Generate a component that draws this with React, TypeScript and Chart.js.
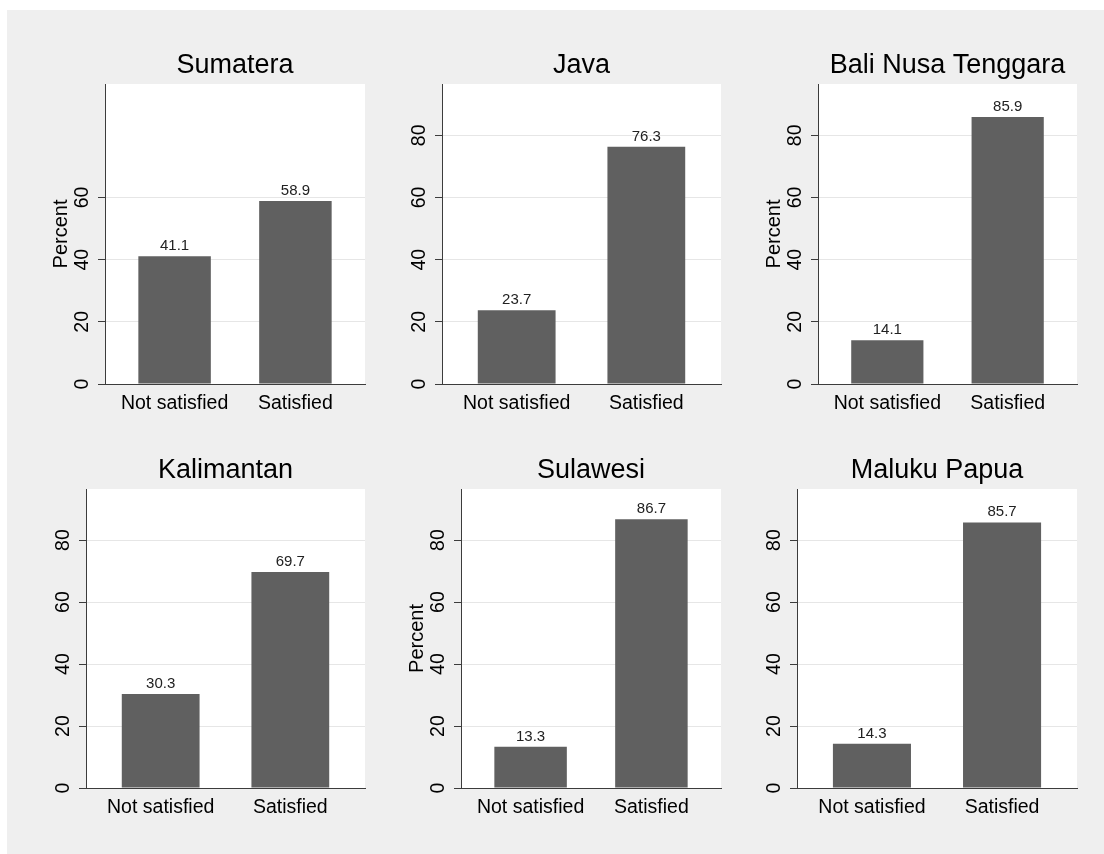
import React, { useEffect, useRef } from 'react';
import { Chart, registerables } from 'chart.js';

Chart.register(...registerables);

// ---------------- data ----------------
const regions = ['Sumatera', 'Java', 'Bali Nusa Tenggara', 'Kalimantan', 'Sulawesi', 'Maluku Papua'];
const categories = ['Not satisfied', 'Satisfied'];
const notSatisfied = [41.1, 23.7, 14.1, 30.3, 13.3, 14.3];
const satisfied = [58.9, 76.3, 85.9, 69.7, 86.7, 85.7];
const yTicksSumatera = [0, 20, 40, 60];
const yTicksDefault = [0, 20, 40, 60, 80];
const yTickSets = [yTicksSumatera, yTicksDefault, yTicksDefault, yTicksDefault, yTicksDefault, yTicksDefault];
const showPercent = [true, false, true, false, true, false];
const yAxisTitle = 'Percent';

// ---------------- layout / style ----------------
const Y_MAX = 96.5;
const X_MIN = -0.576;
const X_MAX = 1.576;
const FONT = "'Liberation Sans', Arial, Helvetica, sans-serif";
const BAR_COLOR = '#606060';
const AXIS_COLOR = '#3c3c3c';
const GRID_COLOR = '#e6e6e6';
const BG_COLOR = '#efefef';

// canvas rect [left, top, width, height] and plot rect [left, top, right, bottom]
const canvasRects = [
  [7, 10, 373, 415],
  [380, 10, 355, 415],
  [735, 10, 365, 415],
  [7, 425, 373, 420],
  [380, 425, 355, 420],
  [735, 425, 365, 420],
];
const plotRects = [
  [105, 84, 365, 384],
  [442, 84, 721, 384],
  [818, 84, 1077, 384],
  [86, 489, 365, 788],
  [461, 489, 721, 788],
  [797, 489, 1077, 788],
];

const plotBgPlugin = {
  id: 'plotBg',
  beforeDraw(chart: any) {
    const { ctx, chartArea } = chart;
    ctx.save();
    ctx.fillStyle = '#ffffff';
    ctx.fillRect(chartArea.left, chartArea.top, chartArea.right - chartArea.left, chartArea.bottom - chartArea.top);
    ctx.restore();
  },
};

const panelTitlePlugin = {
  id: 'panelTitle',
  afterDraw(chart: any, _args: any, opts: any) {
    const { ctx, chartArea } = chart;
    ctx.save();
    ctx.font = `27px ${FONT}`;
    ctx.fillStyle = '#000';
    ctx.textAlign = 'center';
    ctx.textBaseline = 'middle';
    ctx.fillText(opts.text, (chartArea.left + chartArea.right) / 2, chartArea.top - 18);
    ctx.restore();
  },
};

const valueLabelPlugin = {
  id: 'valueLabels',
  afterDatasetsDraw(chart: any) {
    const { ctx } = chart;
    const meta = chart.getDatasetMeta(0);
    const ds = chart.data.datasets[0];
    ctx.save();
    ctx.font = `15px ${FONT}`;
    ctx.fillStyle = '#222';
    ctx.textAlign = 'center';
    ctx.textBaseline = 'alphabetic';
    meta.data.forEach((bar: any, i: number) => {
      const v = ds.data[i].y;
      ctx.fillText(v.toFixed(1), bar.x, bar.y - 6);
    });
    ctx.restore();
  },
};

function Panel({ idx }: { idx: number }) {
  const ref = useRef<HTMLCanvasElement | null>(null);
  const [cl, ct, cw, ch] = canvasRects[idx];
  const [pl, pt, pr, pb] = plotRects[idx];

  useEffect(() => {
    if (!ref.current) return;
    const yW = pl - cl;
    const xH = ct + ch - pb;
    const padTop = pt - ct;
    const padRight = cl + cw - pr;
    const percentPad = pl - 44 - cl - 12;
    const vals = [notSatisfied[idx], satisfied[idx]];
    const yTicks = yTickSets[idx];

    const chart = new Chart(ref.current, {
      type: 'bar',
      data: {
        datasets: [
          {
            data: vals.map((v, i) => ({ x: i, y: v })),
            backgroundColor: BAR_COLOR,
            borderWidth: 0,
            barPercentage: 0.6,
            categoryPercentage: 1,
          } as any,
        ],
      },
      options: {
        animation: false,
        responsive: false,
        devicePixelRatio: 1,
        layout: { padding: { left: 0, top: padTop, right: padRight, bottom: 0 } },
        plugins: {
          legend: { display: false },
          tooltip: { enabled: false },
          title: { display: false },
          panelTitle: { text: regions[idx] },
        } as any,
        scales: {
          x: {
            type: 'linear',
            min: X_MIN,
            max: X_MAX,
            offset: false,
            afterFit: (s: any) => {
              s.height = xH;
            },
            afterBuildTicks: (s: any) => {
              s.ticks = categories.map((_, i) => ({ value: i }));
            },
            grid: { display: false, drawTicks: false, tickLength: 0, offset: false },
            border: { display: true, color: AXIS_COLOR, width: 1 },
            ticks: {
              padding: 8,
              minRotation: 0,
              maxRotation: 0,
              autoSkip: false,
              color: '#000',
              font: { family: FONT, size: 19.5 },
              callback: (v: any) => categories[Math.round(Number(v))] ?? '',
            },
          },
          y: {
            type: 'linear',
            min: 0,
            max: Y_MAX,
            afterFit: (s: any) => {
              s.width = yW;
            },
            afterBuildTicks: (s: any) => {
              s.ticks = yTicks.map((v) => ({ value: v }));
            },
            grid: { color: GRID_COLOR, lineWidth: 1, tickColor: AXIS_COLOR, tickLength: 7, drawTicks: true },
            border: { display: true, color: AXIS_COLOR, width: 1 },
            ticks: {
              minRotation: 90,
              maxRotation: 90,
              crossAlign: 'center',
              padding: 5,
              autoSkip: false,
              color: '#000',
              font: { family: FONT, size: 19.5 },
              callback: (v: any) => String(v),
            },
            title: {
              display: showPercent[idx],
              text: yAxisTitle,
              color: '#000',
              font: { family: FONT, size: 20 },
              padding: { top: percentPad, bottom: 0 },
            },
          },
        } as any,
      },
      plugins: [plotBgPlugin, panelTitlePlugin, valueLabelPlugin],
    });
    return () => chart.destroy();
  }, [idx]);

  return (
    <canvas
      ref={ref}
      width={cw}
      height={ch}
      style={{ position: 'absolute', left: cl, top: ct, width: cw, height: ch }}
    />
  );
}

export default function App() {
  return (
    <div style={{ position: 'absolute', left: 0, top: 0, width: 1104, height: 854, background: '#ffffff', overflow: 'hidden' }}>
      <div style={{ position: 'absolute', left: 7, top: 10, right: 0, bottom: 0, background: BG_COLOR }} />
      {regions.map((_, i) => (
        <Panel key={i} idx={i} />
      ))}
    </div>
  );
}
